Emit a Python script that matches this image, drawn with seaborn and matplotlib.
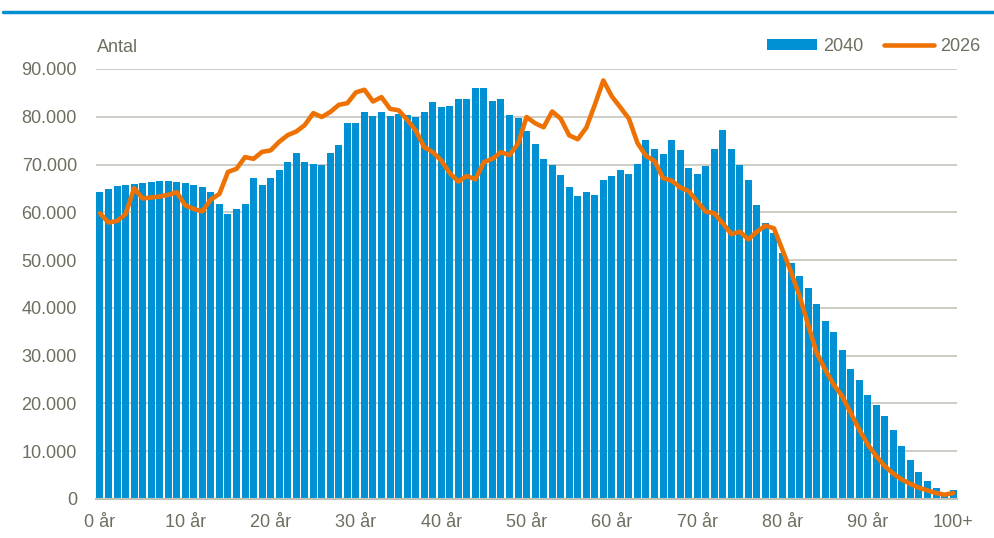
import numpy as np
import pandas as pd
import seaborn as sns
import matplotlib.pyplot as plt
from matplotlib.lines import Line2D
from matplotlib.patches import Patch
from matplotlib.ticker import FuncFormatter

# values (ages 0 .. 100+)
ages = [f"{a}" for a in range(100)] + ["100+"]

pop_2040 = [64200, 64800, 65450, 65700, 66000, 66150, 66350, 66500, 66450, 66350,
            66100, 65650, 65200, 64350, 61750, 59700, 60600, 61750, 67200, 65700,
            67200, 68900, 70550, 72450, 70550, 70200, 70000, 72500, 74100, 78650,
            78600, 81000, 80200, 81050, 80200, 80500, 80400, 80000, 81050, 83100,
            82100, 82300, 83700, 83700, 86000, 86000, 83350, 83700, 80400, 79700,
            77100, 74400, 71200, 69850, 67750, 65200, 63500, 64300, 63650, 66800,
            67500, 68900, 68050, 70050, 75100, 73350, 72300, 75050, 73100, 69250,
            68050, 69600, 73300, 77150, 73300, 69950, 66700, 61450, 57800, 55750,
            51400, 49400, 46650, 44200, 40800, 37150, 34850, 31100, 27300, 25000,
            21700, 19600, 17300, 14500, 11150, 8100, 5650, 3750, 2250, 1250, 1950]

pop_2026 = [59800, 57850, 58200, 59600, 65050, 62900, 63100, 63300, 63650, 64200,
            61450, 60700, 60200, 62700, 63850, 68450, 69100, 71550, 71200, 72650,
            72950, 74750, 76150, 76900, 78250, 80750, 79950, 81000, 82500, 82850,
            85100, 85650, 83200, 84100, 81650, 81350, 79400, 77150, 73650, 72600,
            70850, 68200, 66450, 67600, 66900, 70500, 71200, 72600, 71950, 74350,
            79950, 78650, 77800, 81100, 79600, 76100, 75300, 77700, 82500, 87600,
            84250, 81950, 79600, 74500, 71800, 70750, 67150, 66650, 65200, 64450,
            62250, 60150, 59800, 57700, 55450, 55950, 54350, 55950, 57200, 56650,
            52100, 47500, 42450, 36500, 30600, 27100, 23950, 21500, 18000, 14500,
            11400, 8950, 6850, 5300, 4050, 3150, 2350, 1800, 1250, 900, 1250]

tick_pos = list(range(0, 101, 10))
tick_labels = [f"{a} år" for a in range(0, 100, 10)] + ["100+"]

blue = "#0091D5"
orange = "#EE7203"
txt = "#6E6E60"
fs = 13

df = pd.DataFrame({"age": ages, "y2040": pop_2040, "y2026": pop_2026, "pos": np.arange(len(ages))})

sns.set_style("white")
plt.rcParams["font.family"] = ["Liberation Sans", "DejaVu Sans"]

fig = plt.figure(figsize=(9.95, 5.38), dpi=100)
ax = fig.add_axes([0.0962, 0.0725, 0.866, 0.7993])

sns.barplot(data=df, x="age", y="y2040", color=blue, width=0.82, linewidth=0,
            saturation=1, ax=ax)
sns.lineplot(data=df, x="pos", y="y2026", color=orange, linewidth=3.3, ax=ax)

ax.set_xlim(-0.5, 100.5)
ax.set_ylim(0, 90000)
ax.set_yticks(range(0, 90001, 10000))
ax.yaxis.set_major_formatter(FuncFormatter(lambda v, p: f"{int(v):,}".replace(",", ".")))
ax.set_xticks(tick_pos)
ax.set_xticklabels(tick_labels)
ax.set_xlabel("")
ax.set_ylabel("")
ax.tick_params(axis="both", length=0, labelsize=fs, colors=txt)
ax.tick_params(axis="y", pad=13.5)
ax.tick_params(axis="x", pad=11)

ax.grid(axis="y", color="#C9C9C0", linewidth=1.3)
ax.set_axisbelow(True)
for s in ["top", "right", "left"]:
    ax.spines[s].set_visible(False)
ax.spines["bottom"].set_color("#C0C0B8")
ax.spines["bottom"].set_linewidth(1.5)

fig.text(97 / 995, 1 - 47 / 538, "Antal", fontsize=fs, color=txt, va="center", ha="left")

handles = [Patch(facecolor=blue, edgecolor="none"), Line2D([], [], color=orange, linewidth=3.3)]
ax.legend(handles, ["2040", "2026"], ncol=2, frameon=False, fontsize=fs,
          labelcolor=txt, handlelength=2.8, handleheight=0.55, handletextpad=0.33,
          columnspacing=1.1, loc="center right", bbox_to_anchor=(1.035, 1.053),
          borderaxespad=0)

# rule under the (cropped) heading
fig.add_artist(Line2D([0.003, 1.0], [1 - 12 / 538] * 2, color="#0090D0", linewidth=2.5))

plt.savefig("out.png", dpi=100)
